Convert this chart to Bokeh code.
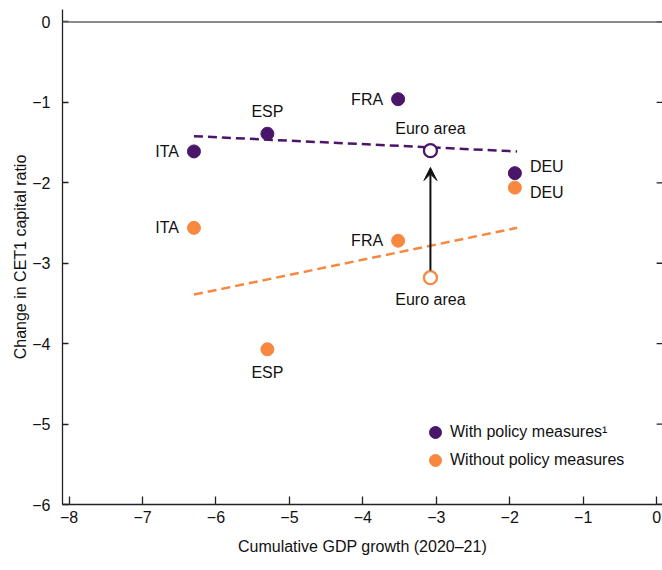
from bokeh.plotting import figure
from bokeh.models import (Range1d, FixedTicker, Span, Arrow, VeeHead,
                          ColumnDataSource, Legend, LegendItem)
from bokeh.embed import file_html
from bokeh.resources import INLINE
from bokeh.core.properties import value

# ---------------- data ----------------
countries = ["ITA", "ESP", "FRA", "DEU"]
gdp_growth = [-6.30, -5.30, -3.52, -1.93]
cet1_with = [-1.61, -1.39, -0.96, -1.88]
cet1_without = [-2.56, -4.07, -2.72, -2.06]

euro_label = "Euro area"
euro_gdp = [-3.08]
euro_with = [-1.60]
euro_without = [-3.18]

trend_x = [-6.30, -1.90]
trend_with = [-1.42, -1.61]
trend_without = [-3.39, -2.56]

x_ticks = [-8, -7, -6, -5, -4, -3, -2, -1, 0]
x_tick_labels = ["\u22128", "\u22127", "\u22126", "\u22125", "\u22124", "\u22123", "\u22122", "\u22121", "0"]
y_ticks = [-6, -5, -4, -3, -2, -1, 0]
y_tick_labels = ["\u22126", "\u22125", "\u22124", "\u22123", "\u22122", "\u22121", "0"]

legend_with = "With policy measures\u00b9"
legend_without = "Without policy measures"
x_title = "Cumulative GDP growth (2020\u201321)"
y_title = "Change in CET1 capital ratio"

# ---------------- styles ----------------
FONT = "Liberation Sans"
FS = "16px"
PURPLE = "#4a166a"
ORANGE = "#f8873f"
INK = "#111111"
AXIS = "#222222"
X_MIN, X_MAX = -8.09, 0.08
Y_MIN, Y_MAX = -6.0, 0.155

p = figure(frame_width=600, frame_height=495,
           x_range=Range1d(X_MIN, X_MAX), y_range=Range1d(Y_MIN, Y_MAX),
           output_backend="svg", toolbar_location=None,
           min_border_left=62, min_border_right=0, min_border_top=9, min_border_bottom=58)
p.outline_line_color = None
p.xgrid.visible = False
p.ygrid.visible = False
p.background_fill_color = "white"
p.border_fill_color = "white"

# axes
xa = p.xaxis[0]
xa.ticker = FixedTicker(ticks=x_ticks)
xa.major_label_overrides = dict(zip(x_ticks, x_tick_labels))
xa.axis_label = x_title
ya = p.yaxis[0]
ya.ticker = FixedTicker(ticks=y_ticks)
ya.major_label_overrides = dict(zip(y_ticks, y_tick_labels))
ya.axis_label = y_title
for ax in (xa, ya):
    ax.axis_line_color = AXIS
    ax.axis_line_width = 1.3
    ax.major_tick_line_color = AXIS
    ax.major_tick_line_width = 1.3
    ax.minor_tick_line_color = None
    ax.major_tick_out = 0
    ax.major_label_text_font = FONT
    ax.major_label_text_font_size = FS
    ax.major_label_text_color = INK
    ax.axis_label_text_font = FONT
    ax.axis_label_text_font_size = FS
    ax.axis_label_text_font_style = "normal"
    ax.axis_label_text_color = INK
xa.major_tick_in = 8
ya.major_tick_in = 6
xa.major_label_standoff = 6
ya.major_label_standoff = 12
xa.axis_label_standoff = 12
ya.axis_label_standoff = 0

# zero line
p.add_layout(Span(location=0, dimension="width", line_color="#666666", line_width=1.5))

# right-hand tick marks (outside x = 0)
p.segment(x0=[x_ticks[-1]] * len(y_ticks), y0=y_ticks,
          x1=[X_MAX] * len(y_ticks), y1=y_ticks,
          line_color=AXIS, line_width=1.3)

# trend lines
p.line(trend_x, trend_with, line_color=PURPLE, line_width=2.5, line_dash="9 5")
p.line(trend_x, trend_without, line_color=ORANGE, line_width=2.5, line_dash="9 5")

# arrow from euro area without -> with
p.add_layout(Arrow(end=VeeHead(size=13, fill_color=INK, line_color=INK, line_width=1),
                   x_start=euro_gdp[0], y_start=euro_without[0] + 0.09,
                   x_end=euro_gdp[0], y_end=euro_with[0] - 0.21,
                   line_color=INK, line_width=2))

# country points
src = ColumnDataSource(dict(x=gdp_growth, yw=cet1_with, yo=cet1_without, name=countries))
r_with = p.scatter("x", "yw", source=src, size=13, fill_color=PURPLE, line_color=PURPLE)
r_without = p.scatter("x", "yo", source=src, size=13, fill_color=ORANGE, line_color=ORANGE)

# euro area open circles
p.scatter(euro_gdp, euro_with, size=13, fill_color="white", line_color=PURPLE, line_width=2.3)
p.scatter(euro_gdp, euro_without, size=13, fill_color="white", line_color=ORANGE, line_width=2.3)

# labels (placement styles per label)
align_w = ["right", "center", "right", "left"]
xoff_w = [-15, 0, -15, 15]
yoff_w = [0, -22, 0, -7]
align_o = ["right", "center", "right", "left"]
xoff_o = [-15, 0, -15, 15]
yoff_o = [0, 23, 0, 5]

lab_w = ColumnDataSource(dict(x=gdp_growth, y=cet1_with, t=countries, a=align_w, xo=xoff_w, yo=yoff_w))
lab_o = ColumnDataSource(dict(x=gdp_growth, y=cet1_without, t=countries, a=align_o, xo=xoff_o, yo=yoff_o))
for s in (lab_w, lab_o):
    p.text("x", "y", text="t", source=s, text_align="a", text_baseline="middle",
           x_offset="xo", y_offset="yo", text_font=value(FONT), text_font_size=FS,
           text_color=INK)
p.text(euro_gdp, euro_with, text=[euro_label], text_align="center", text_baseline="middle",
       y_offset=-22, text_font=value(FONT), text_font_size=FS, text_color=INK)
p.text(euro_gdp, euro_without, text=[euro_label], text_align="center", text_baseline="middle",
       y_offset=22, text_font=value(FONT), text_font_size=FS, text_color=INK)

# legend: two single-row legends so that the rows sit close together
leg_style = dict(orientation="vertical", glyph_width=30, glyph_height=30, label_standoff=0,
                 padding=0, margin=0, background_fill_alpha=0, border_line_alpha=0,
                 label_text_font=FONT, label_text_font_size=FS, label_text_color=INK,
                 label_text_baseline="middle", label_height=30)
p.add_layout(Legend(items=[LegendItem(label=legend_with, renderers=[r_with])],
                    location=(358, 57), **leg_style))
p.add_layout(Legend(items=[LegendItem(label=legend_without, renderers=[r_without])],
                    location=(358, 29), **leg_style))

html = file_html(p, INLINE)
html = html.replace("<head>", "<head><style>html,body{overflow:hidden}</style>", 1)
open("out.html", "w").write(html)
